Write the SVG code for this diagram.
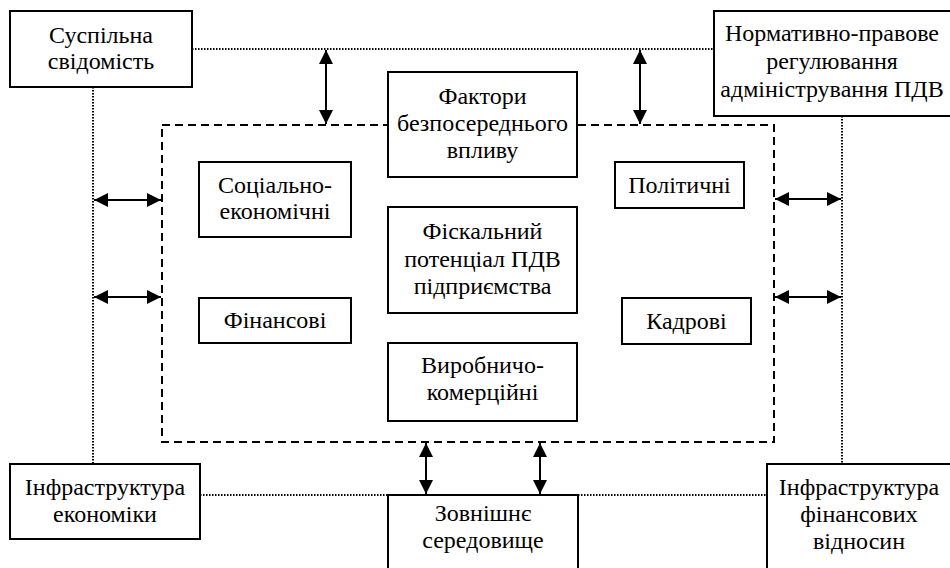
<svg xmlns="http://www.w3.org/2000/svg" width="950" height="568" viewBox="0 0 950 568">
<style>
.box{fill:#fff;stroke:#000;stroke-width:2}
text{font-family:'Liberation Serif','Times New Roman',serif;font-size:24px;fill:#000;text-anchor:middle}
.dot{fill:none;stroke:#000;stroke-width:2;stroke-dasharray:1.5 1.5}
.dash{fill:none;stroke:#000;stroke-width:2;stroke-dasharray:8 5}
.arr{fill:none;stroke:#000;stroke-width:2;marker-start:url(#ah);marker-end:url(#ah)}
</style>
<defs>
<marker id="ah" viewBox="0 0 14 14" refX="14" refY="7" markerWidth="14" markerHeight="14" markerUnits="userSpaceOnUse" orient="auto-start-reverse">
<path d="M0,0 L14,7 L0,14 Z" fill="#000"/>
</marker>
</defs>
<rect width="950" height="568" fill="#fff"/>
<g id="connectors">
<line class="dot" x1="192" y1="49" x2="714" y2="49"/>
<line class="dot" x1="93" y1="87" x2="93" y2="464"/>
<line class="dot" x1="842" y1="116" x2="842" y2="464"/>
<line class="dot" x1="200" y1="495" x2="388" y2="495"/>
<line class="dot" x1="578" y1="495" x2="767" y2="495"/>
<line class="arr" x1="326" y1="50" x2="326" y2="124"/>
<line class="arr" x1="640" y1="50" x2="640" y2="124"/>
<line class="arr" x1="94" y1="200" x2="161" y2="200"/>
<line class="arr" x1="94" y1="297" x2="161" y2="297"/>
<line class="arr" x1="775" y1="199" x2="841" y2="199"/>
<line class="arr" x1="775" y1="297" x2="841" y2="297"/>
<line class="arr" x1="426" y1="443" x2="426" y2="494"/>
<line class="arr" x1="540" y1="443" x2="540" y2="494"/>
</g>
<g id="frame">
<rect class="dash" x="162" y="125" width="612" height="317"/>
</g>
<g id="n-suspilna">
<rect class="box" x="10" y="11" width="182" height="76"/>
<text x="101" y="43">Суспільна</text>
<text x="101" y="69">свідомість</text>
</g>
<g id="n-normatyvno">
<rect class="box" x="714" y="11" width="245" height="105"/>
<text x="832" y="41">Нормативно-правове</text>
<text x="832" y="69">регулювання</text>
<text x="832" y="97">адміністрування ПДВ</text>
</g>
<g id="n-faktory">
<rect class="box" x="388" y="72" width="189" height="105"/>
<text x="482.5" y="104">Фактори</text>
<text x="482.5" y="131">безпосереднього</text>
<text x="482.5" y="158">впливу</text>
</g>
<g id="n-sotsialno">
<rect class="box" x="199" y="162" width="152" height="75"/>
<text x="275" y="193">Соціально-</text>
<text x="275" y="219">економічні</text>
</g>
<g id="n-politychni">
<rect class="box" x="615" y="162" width="129" height="46"/>
<text x="679.5" y="193">Політичні</text>
</g>
<g id="n-fiskalnyi">
<rect class="box" x="388" y="207" width="189" height="106"/>
<text x="482.5" y="239">Фіскальний</text>
<text x="482.5" y="267">потенціал ПДВ</text>
<text x="482.5" y="294">підприємства</text>
</g>
<g id="n-finansovi">
<rect class="box" x="199" y="298" width="152" height="45"/>
<text x="275" y="328">Фінансові</text>
</g>
<g id="n-kadrovi">
<rect class="box" x="622" y="298" width="129" height="46"/>
<text x="686.5" y="329">Кадрові</text>
</g>
<g id="n-vyrobnycho">
<rect class="box" x="388" y="343" width="189" height="78"/>
<text x="482.5" y="373">Виробничо-</text>
<text x="482.5" y="400">комерційні</text>
</g>
<g id="n-infra-ekon">
<rect class="box" x="10" y="464" width="190" height="75"/>
<text x="105" y="495">Інфраструктура</text>
<text x="105" y="522">економіки</text>
</g>
<g id="n-zovnishnie">
<rect class="box" x="388" y="495" width="190" height="85"/>
<text x="483" y="521">Зовнішнє</text>
<text x="483" y="548">середовище</text>
</g>
<g id="n-infra-fin">
<rect class="box" x="767" y="464" width="192" height="116"/>
<text x="859" y="495">Інфраструктура</text>
<text x="859" y="522">фінансових</text>
<text x="859" y="549">відносин</text>
</g>
</svg>
